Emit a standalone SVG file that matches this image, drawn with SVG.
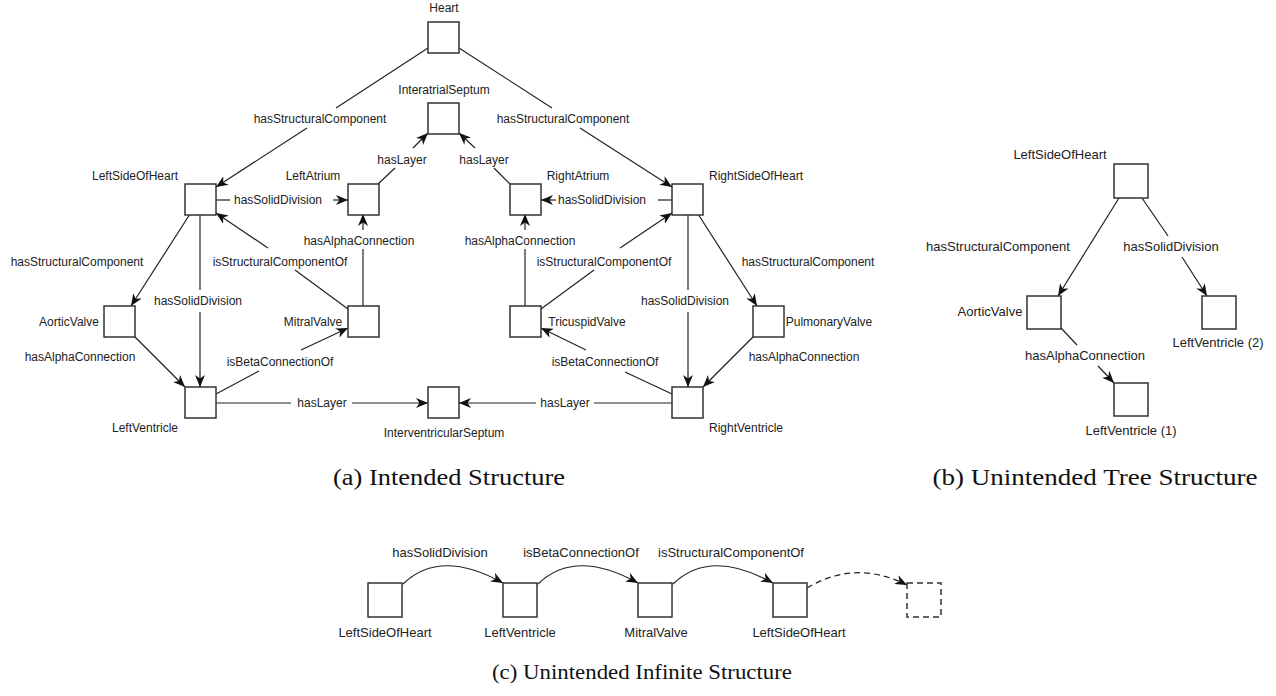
<svg xmlns="http://www.w3.org/2000/svg" width="1276" height="696" viewBox="0 0 1276 696">
<style>
.bg{fill:#ffffff}
.box{fill:#ffffff;stroke:#333;stroke-width:1.5}
.dbox{fill:#ffffff;stroke:#333;stroke-width:1.5;stroke-dasharray:6 4}
.t{font-family:"Liberation Sans",Arial,sans-serif;font-size:12px;fill:#222;text-anchor:middle}
.t13{font-family:"Liberation Sans",Arial,sans-serif;font-size:13px;fill:#222;text-anchor:middle}
.cap{font-family:"Liberation Serif","Times New Roman",serif;font-size:24px;fill:#111;text-anchor:middle}
.capc{font-family:"Liberation Serif","Times New Roman",serif;font-size:21px;fill:#111;text-anchor:middle}
.e{fill:none;stroke:#222;stroke-width:1.2}
.ea{fill:none;stroke:#222;stroke-width:1.2;marker-end:url(#ah)}
.ed{fill:none;stroke:#222;stroke-width:1.2;stroke-dasharray:6 4;marker-end:url(#ah)}
</style>
<defs>
<marker id="ah" viewBox="0 0 12 10" refX="12" refY="5" markerWidth="12" markerHeight="10" orient="auto" markerUnits="userSpaceOnUse">
<path d="M0,0 L12,5 L0,10 L3.5,5 z" fill="#111"/>
</marker>
</defs>
<rect class="bg" x="0" y="0" width="1276" height="696"/>

<g id="connectors">
<!-- panel a -->
<path class="e" d="M428,48 L336,108"/>
<path class="ea" d="M307,128 L216,187"/>
<path class="e" d="M459,48 L552,108"/>
<path class="ea" d="M580,128 L672,187"/>
<path class="e" d="M378,184 L395,168"/>
<path class="ea" d="M413,148 L428,133"/>
<path class="e" d="M510,184 L494,168"/>
<path class="ea" d="M475,148 L459,133"/>
<path class="e" d="M216,200 L230,200"/>
<path class="ea" d="M333,200 L348,200"/>
<path class="e" d="M672,200 L658,200"/>
<path class="ea" d="M556,200 L541,200"/>
<path class="e" d="M363,306 L363,249"/>
<path class="ea" d="M363,230 L363,214"/>
<path class="e" d="M525,306 L525,249"/>
<path class="ea" d="M525,230 L525,214"/>
<path class="ea" d="M190,214 L131,306"/>
<path class="e" d="M200,214 L200,290"/>
<path class="ea" d="M200,312 L200,387"/>
<path class="ea" d="M135,337 L185,387"/>
<path class="e" d="M216,394 L259,371"/>
<path class="ea" d="M301,350 L348,328"/>
<path class="e" d="M348,309 L295,270"/>
<path class="ea" d="M268,248 L216,213"/>
<path class="e" d="M541,309 L594,270"/>
<path class="ea" d="M620,248 L672,213"/>
<path class="ea" d="M698,214 L757,306"/>
<path class="e" d="M688,214 L688,290"/>
<path class="ea" d="M688,312 L688,387"/>
<path class="ea" d="M753,337 L703,387"/>
<path class="e" d="M672,394 L625,372"/>
<path class="ea" d="M586,350 L541,328"/>
<path class="e" d="M216,403 L291,403"/>
<path class="ea" d="M352,403 L428,403"/>
<path class="e" d="M672,403 L594,403"/>
<path class="ea" d="M536,403 L459,403"/>
<!-- panel b -->
<path class="ea" d="M1119,198 L1058,296"/>
<path class="e" d="M1142,198 L1168,236"/>
<path class="ea" d="M1182,257 L1207,296"/>
<path class="e" d="M1061,328 L1077,345"/>
<path class="ea" d="M1098,366 L1114,383"/>
<!-- panel c -->
<path class="ea" d="M403,584 Q440,548 503,583"/>
<path class="ea" d="M538,584 Q575,548 638,583"/>
<path class="ea" d="M673,584 Q710,548 773,583"/>
<path class="ed" d="M807,588 Q855,559 907,585"/>
</g>

<g id="edge-labels">
<text class="t" x="320" y="123">hasStructuralComponent</text>
<text class="t" x="563" y="123">hasStructuralComponent</text>
<text class="t" x="402" y="164">hasLayer</text>
<text class="t" x="484" y="164">hasLayer</text>
<text class="t" x="278" y="204">hasSolidDivision</text>
<text class="t" x="602" y="204">hasSolidDivision</text>
<text class="t" x="359" y="245">hasAlphaConnection</text>
<text class="t" x="520" y="245">hasAlphaConnection</text>
<text class="t" x="77" y="266">hasStructuralComponent</text>
<text class="t" x="280" y="266">isStructuralComponentOf</text>
<text class="t" x="604" y="266">isStructuralComponentOf</text>
<text class="t" x="808" y="266">hasStructuralComponent</text>
<text class="t" x="198" y="305">hasSolidDivision</text>
<text class="t" x="685" y="305">hasSolidDivision</text>
<text class="t" x="80" y="361">hasAlphaConnection</text>
<text class="t" x="804" y="361">hasAlphaConnection</text>
<text class="t" x="280" y="366">isBetaConnectionOf</text>
<text class="t" x="605" y="366">isBetaConnectionOf</text>
<text class="t" x="322" y="407">hasLayer</text>
<text class="t" x="565" y="407">hasLayer</text>
<text class="t13" x="998" y="251">hasStructuralComponent</text>
<text class="t13" x="1171" y="251">hasSolidDivision</text>
<text class="t13" x="1085" y="360">hasAlphaConnection</text>
<text class="t13" x="440" y="557">hasSolidDivision</text>
<text class="t13" x="581" y="557">isBetaConnectionOf</text>
<text class="t13" x="731" y="557">isStructuralComponentOf</text>
</g>

<!-- panel a nodes -->
<g id="a-heart"><rect class="box" x="428" y="22" width="31" height="31"/><text class="t" x="444" y="12">Heart</text></g>
<g id="a-interatrial"><rect class="box" x="428" y="103" width="31" height="31"/><text class="t" x="444" y="94">InteratrialSeptum</text></g>
<g id="a-leftside"><rect class="box" x="185" y="184" width="31" height="31"/><text class="t" x="135" y="180">LeftSideOfHeart</text></g>
<g id="a-leftatrium"><rect class="box" x="348" y="184" width="31" height="31"/><text class="t" x="313" y="180">LeftAtrium</text></g>
<g id="a-rightatrium"><rect class="box" x="510" y="184" width="31" height="31"/><text class="t" x="578" y="180">RightAtrium</text></g>
<g id="a-rightside"><rect class="box" x="672" y="184" width="31" height="31"/><text class="t" x="756" y="180">RightSideOfHeart</text></g>
<g id="a-aortic"><rect class="box" x="104" y="306" width="31" height="31"/><text class="t" x="69" y="326">AorticValve</text></g>
<g id="a-mitral"><rect class="box" x="348" y="306" width="31" height="31"/><text class="t" x="313" y="326">MitralValve</text></g>
<g id="a-tricuspid"><rect class="box" x="510" y="306" width="31" height="31"/><text class="t" x="587" y="326">TricuspidValve</text></g>
<g id="a-pulmonary"><rect class="box" x="753" y="306" width="31" height="31"/><text class="t" x="829" y="326">PulmonaryValve</text></g>
<g id="a-leftventricle"><rect class="box" x="185" y="387" width="31" height="31"/><text class="t" x="145" y="432">LeftVentricle</text></g>
<g id="a-interventricular"><rect class="box" x="428" y="387" width="31" height="31"/><text class="t" x="444" y="437">InterventricularSeptum</text></g>
<g id="a-rightventricle"><rect class="box" x="672" y="387" width="31" height="31"/><text class="t" x="746" y="432">RightVentricle</text></g>

<!-- panel b nodes -->
<g id="b-leftside"><rect class="box" x="1114" y="164" width="34" height="34"/><text class="t13" x="1060" y="159">LeftSideOfHeart</text></g>
<g id="b-aortic"><rect class="box" x="1027" y="296" width="34" height="33"/><text class="t13" x="990" y="316">AorticValve</text></g>
<g id="b-lv2"><rect class="box" x="1202" y="296" width="34" height="33"/><text class="t13" x="1218" y="347">LeftVentricle (2)</text></g>
<g id="b-lv1"><rect class="box" x="1114" y="383" width="34" height="33"/><text class="t13" x="1131" y="435">LeftVentricle (1)</text></g>

<!-- panel c nodes -->
<g id="c-leftside1"><rect class="box" x="368" y="583" width="34" height="34"/><text class="t13" x="385" y="637">LeftSideOfHeart</text></g>
<g id="c-leftventricle"><rect class="box" x="503" y="583" width="34" height="34"/><text class="t13" x="520" y="637">LeftVentricle</text></g>
<g id="c-mitral"><rect class="box" x="638" y="583" width="34" height="34"/><text class="t13" x="656" y="637">MitralValve</text></g>
<g id="c-leftside2"><rect class="box" x="773" y="583" width="34" height="34"/><text class="t13" x="799" y="637">LeftSideOfHeart</text></g>
<g id="c-next"><rect class="dbox" x="907" y="583" width="34" height="34"/></g>

<g id="captions">
<text class="cap" x="449" y="485" textLength="232" lengthAdjust="spacingAndGlyphs">(a) Intended Structure</text>
<text class="cap" x="1095" y="485" textLength="325" lengthAdjust="spacingAndGlyphs">(b) Unintended Tree Structure</text>
<text class="capc" x="642" y="679" textLength="300" lengthAdjust="spacingAndGlyphs">(c) Unintended Infinite Structure</text>
</g>
</svg>
